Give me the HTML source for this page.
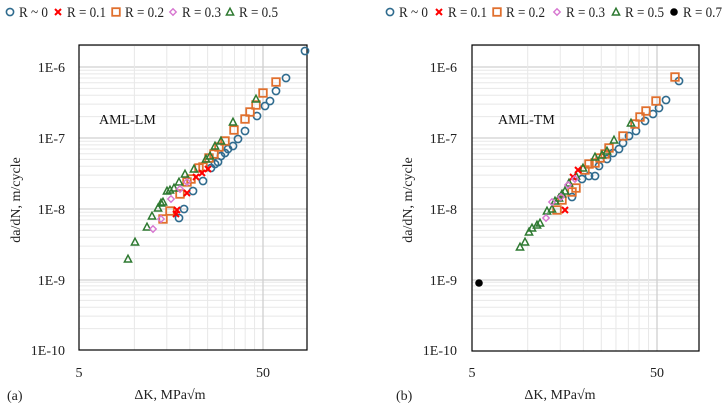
<!DOCTYPE html>
<html><head><meta charset="utf-8"><style>
html,body{margin:0;padding:0;background:#fff;}
svg{display:block;font-family:"Liberation Serif",serif;}
</style></head><body>
<svg id="s" width="725" height="410" xmlns="http://www.w3.org/2000/svg"></svg>
<script>
const s=document.getElementById('s');let h='';
const C={o:'#2f6b8e',x:'#ff0000',q:'#e0702e',d:'#d777d0',t:'#2f7a32',b:'#000'};
function mk(t,x,y){
 if(t=='o')return `<circle cx="${x}" cy="${y}" r="3.6" fill="none" stroke="${C.o}" stroke-width="1.6"/>`;
 if(t=='q')return `<rect x="${x-3.8}" y="${y-3.8}" width="7.6" height="7.6" fill="none" stroke="${C.q}" stroke-width="1.8"/>`;
 if(t=='t')return `<polygon points="${x},${y-3.8} ${x+3.6},${y+3} ${x-3.6},${y+3}" fill="none" stroke="${C.t}" stroke-width="1.5"/>`;
 if(t=='d')return `<polygon points="${x},${y-3.2} ${x+3.2},${y} ${x},${y+3.2} ${x-3.2},${y}" fill="none" stroke="${C.d}" stroke-width="1.4"/>`;
 if(t=='x')return `<path d="M${x-3},${y-3}L${x+3},${y+3}M${x+3},${y-3}L${x-3},${y+3}" stroke="${C.x}" stroke-width="2"/>`;
 if(t=='b')return `<circle cx="${x}" cy="${y}" r="3.8" fill="#000"/>`;
}
function panel(L,R,T,B,dec,lab,ytx,ylx,title,tx,pts,tag,tagx,xtx){
 const yd=[67,138,209,280,350];
 for(let i=0;i<4;i++){for(let m=2;m<=9;m++){const y=yd[i+1]-Math.log10(m)*71;h+=`<line x1="${L}" x2="${R}" y1="${y}" y2="${y}" stroke="#e8e8e8" stroke-width="1"/>`;}}
 {const y=yd[0]-Math.log10(2)*71;if(y>T)h+=`<line x1="${L}" x2="${R}" y1="${y}" y2="${y}" stroke="#e8e8e8"/>`;}
 for(let i=0;i<4;i++)h+=`<line x1="${L}" x2="${R}" y1="${yd[i]}" y2="${yd[i]}" stroke="#d0d0d0" stroke-width="1.3"/>`;
 for(let v=10;v<=50;v+=5){const x=L+Math.log10(v/5)*dec;h+=`<line x1="${x}" x2="${x}" y1="${T}" y2="${B}" stroke="${v==50?'#cfcfcf':'#e8e8e8'}" stroke-width="${v==50?1.3:1}"/>`;}
 h+=`<rect x="${L}" y="${T}" width="${R-L}" height="${B-T}" fill="none" stroke="#000" stroke-width="1.2"/>`;
 ['1E-6','1E-7','1E-8','1E-9','1E-10'].forEach((t,i)=>h+=`<text x="${lab}" y="${yd[i]+5}" font-size="14" text-anchor="end" fill="#222">${t}</text>`);
 h+=`<text x="${L}" y="377" font-size="14" text-anchor="middle" fill="#222">5</text>`;
 h+=`<text x="${L+dec}" y="377" font-size="14" text-anchor="middle" fill="#222">50</text>`;
 h+=`<text transform="translate(${ylx},200) rotate(-90)" font-size="14" text-anchor="middle" fill="#222">da/dN, m/cycle</text>`;
 h+=`<text x="${xtx}" y="399" font-size="14" text-anchor="middle" fill="#222">ΔK, MPa√m</text>`;
 h+=`<text x="${tagx}" y="400" font-size="14" fill="#222">${tag}</text>`;
 h+=`<text x="${tx}" y="124" font-size="14" fill="#111">${title}</text>`;
 for(const k in pts){const a=pts[k];for(let i=0;i<a.length;i+=2)h+=mk(k,a[i],a[i+1]);}
}
panel(79,307,45,350,184,65,0,20,'AML-LM',99,{
 o:[305,51,286,78,276,91,270,101,265,106,257,116,245,131,238,139,233,146,228,149,225,153,221,156,218,162,215,164,211,168,203,181,193,191,184,209,179,218],
 q:[276,82,263,93,256,105,250,112,245,119,234,130,225,141,219,147,214,154,209,158,203,167,199,168,191,179,187,182,180,194,170,211,163,219],
 t:[256,99,233,122,221,141,215,146,210,156,206,159,194,169,185,174,179,182,174,188,170,190,167,191,163,202,161,203,158,208,152,216,147,227,135,242,128,259],
 x:[208,169,202,173,196,177,187,193,177,210,176,214],
 d:[187,182,180,189,171,199,161,219,153,229]},'(a)',7,170);
panel(472,699,45,351,185,457,0,412,'AML-TM',498,{
 o:[679,81,666,100,659,108,653,114,645,121,636,131,629,136,623,143,619,149,613,153,607,159,599,166,595,176,589,176,582,179,572,197],
 q:[675,77,656,101,646,111,640,117,635,124,623,136,609,148,605,154,600,158,595,163,589,164,585,170,576,188,572,192,562,200,557,210],
 t:[631,123,614,140,607,151,602,155,595,157,583,168,576,176,569,183,565,191,562,194,559,198,555,201,552,209,547,211,540,223,537,225,532,228,529,232,525,242,520,247],
 x:[578,170,573,177,565,210],
 d:[575,179,568,185,561,197,552,202,546,218],
 b:[479,283]},'(b)',396,560);
function leg(items){items.forEach(([k,x,t])=>{h+=mk(k,x,12);const w=t.length==5?29:39;h+=`<text x="${x+9}" y="17" font-size="15" fill="#222" textLength="${w}" lengthAdjust="spacingAndGlyphs">${t}</text>`;});}
leg([['o',10,'R ~ 0'],['x',58,'R = 0.1'],['q',116,'R = 0.2'],['d',173,'R = 0.3'],['t',230,'R = 0.5']]);
leg([['o',390,'R ~ 0'],['x',439,'R = 0.1'],['q',497,'R = 0.2'],['d',557,'R = 0.3'],['t',616,'R = 0.5'],['b',674,'R = 0.7']]);
s.innerHTML=h;
</script>
</body></html>
